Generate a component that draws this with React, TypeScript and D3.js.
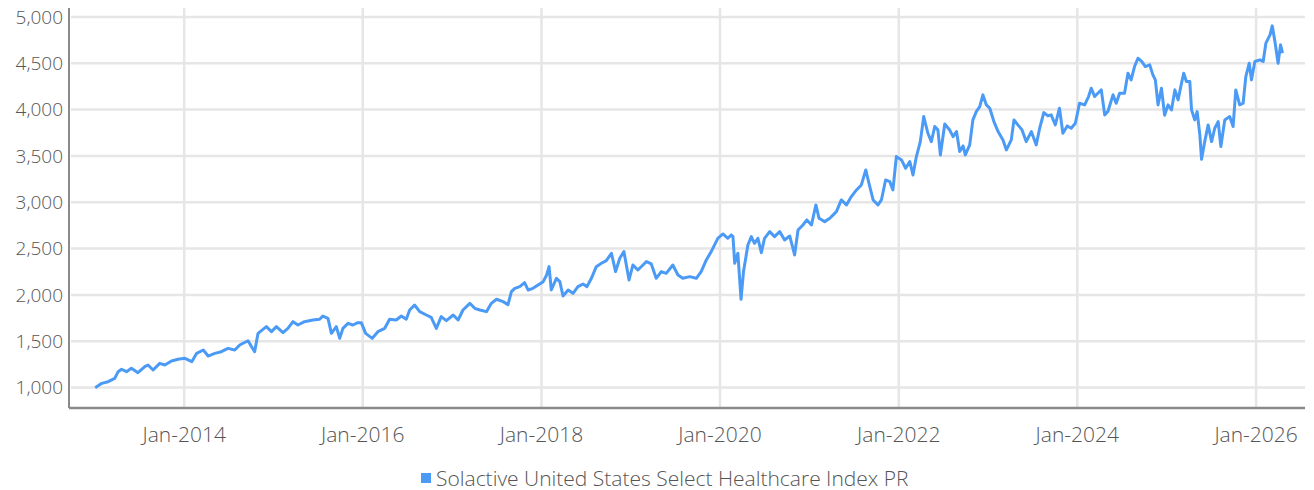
import React from "react";
import * as d3 from "d3";

// index level (date, value)
const y2013 = [["2013-01-02", 998], ["2013-01-29", 1045], ["2013-02-24", 1063], ["2013-03-23", 1099], ["2013-04-06", 1171], ["2013-04-20", 1197], ["2013-05-10", 1171], ["2013-05-30", 1207], ["2013-06-26", 1160], ["2013-07-24", 1225], ["2013-08-06", 1243], ["2013-08-27", 1189], ["2013-09-23", 1261], ["2013-10-14", 1243], ["2013-11-10", 1286], ["2013-12-07", 1305]];
const y2014 = [["2014-01-04", 1315], ["2014-02-01", 1279], ["2014-02-21", 1369], ["2014-03-20", 1405], ["2014-04-09", 1340], ["2014-05-06", 1369], ["2014-06-02", 1387], ["2014-06-29", 1423], ["2014-07-27", 1405], ["2014-08-16", 1459], ["2014-09-19", 1505], ["2014-10-16", 1387], ["2014-10-30", 1585], ["2014-12-03", 1657], ["2014-12-24", 1603]];
const y2015 = [["2015-01-13", 1657], ["2015-02-09", 1592], ["2015-03-01", 1639], ["2015-03-22", 1711], ["2015-04-11", 1675], ["2015-05-08", 1711], ["2015-06-11", 1729], ["2015-07-09", 1737], ["2015-07-22", 1772], ["2015-08-12", 1747], ["2015-08-26", 1585], ["2015-09-15", 1657], ["2015-09-29", 1531], ["2015-10-12", 1639], ["2015-11-02", 1693], ["2015-11-22", 1675], ["2015-12-12", 1700], ["2015-12-26", 1700]];
const y2016 = [["2016-01-13", 1585], ["2016-02-09", 1531], ["2016-03-03", 1603], ["2016-03-31", 1639], ["2016-04-20", 1737], ["2016-05-17", 1729], ["2016-06-07", 1772], ["2016-06-27", 1737], ["2016-07-11", 1837], ["2016-07-31", 1891], ["2016-08-21", 1819], ["2016-09-17", 1783], ["2016-10-07", 1758], ["2016-10-28", 1639], ["2016-11-17", 1765], ["2016-12-08", 1722]];
const y2017 = [["2017-01-05", 1783], ["2017-01-25", 1729], ["2017-02-14", 1837], ["2017-03-14", 1909], ["2017-04-03", 1855], ["2017-04-24", 1837], ["2017-05-21", 1819], ["2017-06-10", 1909], ["2017-07-01", 1953], ["2017-07-28", 1927], ["2017-08-17", 1895], ["2017-08-31", 2035], ["2017-09-14", 2071], ["2017-10-04", 2089], ["2017-10-24", 2132], ["2017-11-07", 2053], ["2017-11-27", 2071], ["2017-12-18", 2107]];
const y2018 = [["2018-01-08", 2143], ["2018-01-22", 2215], ["2018-02-01", 2305], ["2018-02-10", 2053], ["2018-03-03", 2179], ["2018-03-17", 2143], ["2018-03-30", 1988], ["2018-04-20", 2053], ["2018-05-10", 2017], ["2018-05-30", 2089], ["2018-06-20", 2118], ["2018-07-06", 2089], ["2018-07-24", 2179], ["2018-08-13", 2305], ["2018-09-03", 2341], ["2018-09-23", 2370], ["2018-10-14", 2449], ["2018-10-31", 2251], ["2018-11-17", 2395], ["2018-12-04", 2467], ["2018-12-25", 2161]];
const y2019 = [["2019-01-10", 2323], ["2019-01-30", 2269], ["2019-02-20", 2323], ["2019-03-06", 2359], ["2019-03-26", 2334], ["2019-04-15", 2179], ["2019-05-06", 2251], ["2019-05-26", 2233], ["2019-06-22", 2323], ["2019-07-13", 2215], ["2019-08-02", 2179], ["2019-08-30", 2197], ["2019-09-26", 2179], ["2019-10-16", 2251], ["2019-11-06", 2377], ["2019-11-26", 2467], ["2019-12-23", 2611]];
const y2020 = [["2020-01-13", 2658], ["2020-02-02", 2611], ["2020-02-16", 2647], ["2020-02-23", 2629], ["2020-03-01", 2341], ["2020-03-14", 2449], ["2020-03-27", 1952], ["2020-04-06", 2251], ["2020-04-24", 2539], ["2020-05-08", 2629], ["2020-05-21", 2557], ["2020-06-04", 2611], ["2020-06-18", 2456], ["2020-07-01", 2611], ["2020-07-22", 2683], ["2020-08-11", 2629], ["2020-09-01", 2683], ["2020-09-21", 2593], ["2020-10-12", 2636], ["2020-11-01", 2431], ["2020-11-15", 2701], ["2020-12-05", 2755], ["2020-12-21", 2809]];
const y2021 = [["2021-01-09", 2755], ["2021-01-27", 2971], ["2021-02-09", 2827], ["2021-03-04", 2791], ["2021-03-25", 2827], ["2021-04-21", 2899], ["2021-05-11", 3025], ["2021-06-01", 2971], ["2021-06-21", 3061], ["2021-07-12", 3133], ["2021-08-01", 3187], ["2021-08-19", 3349], ["2021-09-01", 3205], ["2021-09-18", 3025], ["2021-10-08", 2971], ["2021-10-22", 3025], ["2021-11-08", 3241], ["2021-11-25", 3223], ["2021-12-08", 3133], ["2021-12-22", 3493]];
const y2022 = [["2022-01-12", 3457], ["2022-01-29", 3367], ["2022-02-15", 3439], ["2022-02-28", 3295], ["2022-03-14", 3493], ["2022-03-30", 3655], ["2022-04-13", 3925], ["2022-04-30", 3745], ["2022-05-14", 3655], ["2022-05-28", 3817], ["2022-06-10", 3781], ["2022-06-20", 3511], ["2022-07-08", 3845], ["2022-07-28", 3780], ["2022-08-11", 3709], ["2022-08-25", 3763], ["2022-09-07", 3547], ["2022-09-21", 3608], ["2022-09-30", 3511], ["2022-10-18", 3619], ["2022-10-31", 3889], ["2022-11-14", 3979], ["2022-11-28", 4033], ["2022-12-11", 4159], ["2022-12-25", 4051]];
const y2023 = [["2023-01-08", 4015], ["2023-01-25", 3871], ["2023-02-11", 3763], ["2023-03-03", 3673], ["2023-03-17", 3565], ["2023-04-06", 3673], ["2023-04-17", 3889], ["2023-05-03", 3835], ["2023-05-20", 3781], ["2023-06-06", 3655], ["2023-06-27", 3763], ["2023-07-17", 3619], ["2023-07-31", 3799], ["2023-08-17", 3968], ["2023-09-03", 3932], ["2023-09-16", 3943], ["2023-10-03", 3835], ["2023-10-20", 4015], ["2023-11-03", 3745], ["2023-11-21", 3824], ["2023-12-07", 3799], ["2023-12-24", 3853]];
const y2024 = [["2024-01-10", 4069], ["2024-01-31", 4051], ["2024-02-16", 4141], ["2024-02-27", 4231], ["2024-03-12", 4141], ["2024-03-25", 4177], ["2024-04-08", 4213], ["2024-04-22", 3943], ["2024-05-05", 3979], ["2024-05-26", 4159], ["2024-06-08", 4069], ["2024-06-22", 4177], ["2024-07-12", 4177], ["2024-07-26", 4393], ["2024-08-08", 4321], ["2024-08-22", 4465], ["2024-09-05", 4555], ["2024-09-21", 4519], ["2024-10-05", 4465], ["2024-10-23", 4483], ["2024-11-05", 4375], ["2024-11-15", 4321], ["2024-11-26", 4051], ["2024-12-10", 4231], ["2024-12-23", 3940]];
const y2025 = [["2025-01-06", 4051], ["2025-01-20", 3997], ["2025-02-03", 4213], ["2025-02-16", 4105], ["2025-03-02", 4285], ["2025-03-11", 4393], ["2025-03-22", 4303], ["2025-04-05", 4303], ["2025-04-12", 3997], ["2025-04-25", 3889], ["2025-05-05", 3979], ["2025-05-16", 3727], ["2025-05-23", 3464], ["2025-06-05", 3655], ["2025-06-19", 3835], ["2025-07-03", 3655], ["2025-07-16", 3799], ["2025-07-30", 3871], ["2025-08-10", 3601], ["2025-08-26", 3889], ["2025-09-15", 3925], ["2025-09-29", 3817], ["2025-10-10", 4213], ["2025-10-26", 4051], ["2025-11-09", 4069], ["2025-11-20", 4357], ["2025-12-04", 4501], ["2025-12-13", 4321], ["2025-12-27", 4519]];
const y2026 = [["2026-01-17", 4537], ["2026-01-30", 4519], ["2026-02-10", 4717], ["2026-02-27", 4807], ["2026-03-08", 4904], ["2026-03-19", 4735], ["2026-04-01", 4501], ["2026-04-11", 4699], ["2026-04-19", 4609]];

const yTicks = [1000, 1500, 2000, 2500, 3000, 3500, 4000, 4500, 5000];
const seriesName = "Solactive United States Select Healthcare Index PR";

const width = 1314;
const height = 490;
const left = 69;
const right = 1305;
const top = 8;
const bottom = 408;
const blue = "#4b9bf6";
const font = "'Open Sans', sans-serif";

export default function App() {
  const parse = d3.utcParse("%Y-%m-%d");
  const data = [y2013, y2014, y2015, y2016, y2017, y2018, y2019, y2020, y2021, y2022, y2023, y2024, y2025, y2026]
    .flat()
    .map(([d, v]) => ({ date: parse(d as string) as Date, value: v as number }));

  const x = d3.scaleUtc()
    .domain([Date.UTC(2012, 8, 17), Date.UTC(2026, 6, 20)])
    .range([left, right]);
  const y = d3.scaleLinear().domain([779, 5097]).range([bottom, top]);

  const xTicks = x.ticks(d3.utcYear.every(2) as any);
  const fmt = d3.utcFormat("%b-%Y");
  const num = d3.format(",");

  const line = d3.line<{ date: Date; value: number }>()
    .x(d => x(d.date))
    .y(d => y(d.value));

  const textStyle = { fontWeight: 300 } as React.CSSProperties;

  return (
    <svg width={width} height={height} style={{ position: "absolute", left: 0, top: 0 }} fontFamily={font}>
      {yTicks.map(t => (
        <line key={"h" + t} x1={left + 2} x2={right} y1={y(t)} y2={y(t)} stroke="#e6e6e6" strokeWidth={2.5} />
      ))}
      {xTicks.map(t => (
        <line key={"v" + t.getTime()} x1={x(t)} x2={x(t)} y1={top} y2={bottom} stroke="#e6e6e6" strokeWidth={2.5} />
      ))}
      <line x1={left} x2={left} y1={top} y2={bottom} stroke="#8a8a8a" strokeWidth={2} />
      <line x1={left} x2={right} y1={bottom} y2={bottom} stroke="#8a8a8a" strokeWidth={2.5} />

      <path d={line(data) || ""} fill="none" stroke={blue} strokeWidth={3} strokeLinejoin="round" />

      {yTicks.map(t => (
        <text key={"yl" + t} x={63} y={y(t)} dy="0.36em" textAnchor="end" fontSize={19} fill="#555" style={textStyle}>
          {num(t)}
        </text>
      ))}
      {xTicks.map(t => (
        <text key={"xl" + t.getTime()} x={x(t)} y={434} dy="0.36em" textAnchor="middle" fontSize={21} fill="#555" style={textStyle}>
          {fmt(t)}
        </text>
      ))}

      <rect x={421} y={473} width={10} height={10} fill={blue} />
      <text x={436} y={478} dy="0.36em" fontSize={21} fill="#555" style={textStyle}>{seriesName}</text>
    </svg>
  );
}
